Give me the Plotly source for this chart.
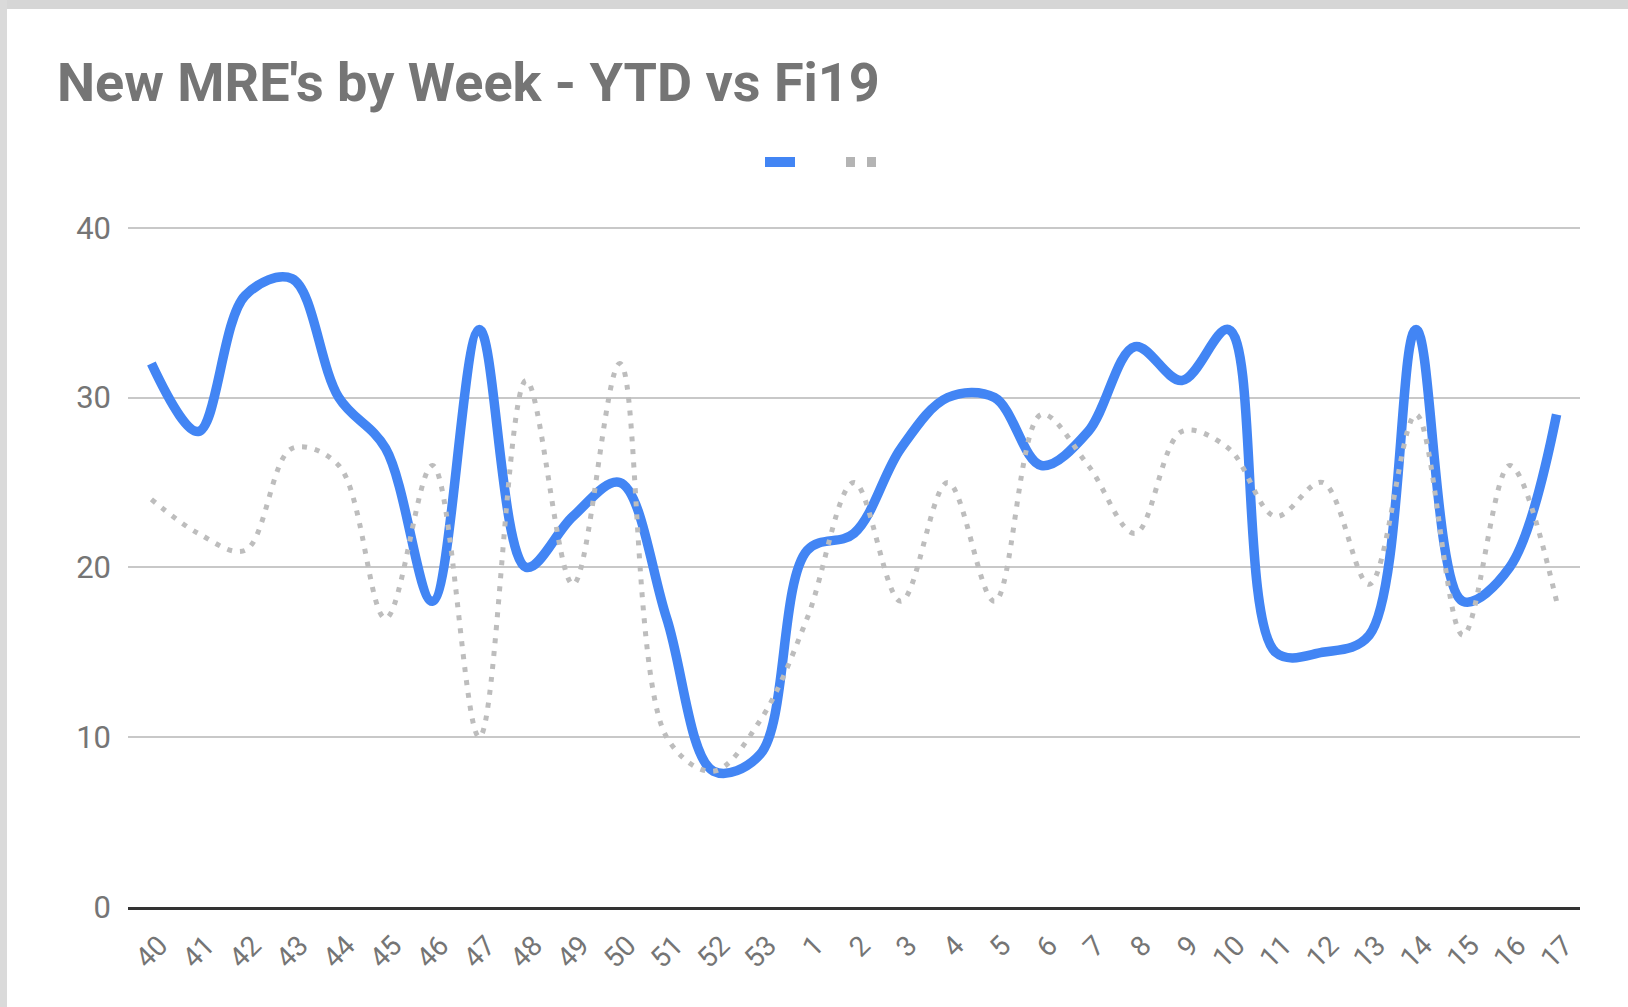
import plotly.graph_objects as go

weeks = ["40", "41", "42", "43", "44", "45", "46", "47", "48", "49", "50", "51", "52", "53",
         "1", "2", "3", "4", "5", "6", "7", "8", "9", "10", "11", "12", "13", "14", "15", "16", "17"]
ytd = [32, 28, 36, 37, 30, 27, 18, 34, 20, 23, 25, 17, 8, 9,
       21, 22, 27, 30, 30, 26, 28, 33, 31, 34, 15, 15, 16, 34, 18, 20, 29]
fi19 = [24, 22, 21, 27, 26, 17, 26, 10, 31, 19, 32, 10, 8, 11,
        17, 25, 18, 25, 18, 29, 26, 22, 28, 27, 23, 25, 19, 29, 16, 26, 18]
y_ticks = [0, 10, 20, 30, 40]

W, H = 1628, 1007
L, R, T, B = 128, 48, 226, 100
pw, ph = W - L - R, H - T - B


def px(x):
    return (x - L) / pw


def py(y):
    return (H - B - y) / ph


BLUE = "#4285F4"
GRAY = "#BDBDBD"

fig = go.Figure()
fig.add_trace(go.Scatter(x=weeks, y=ytd, mode="lines", name="YTD", showlegend=False,
                         line=dict(color=BLUE, width=9.5, shape="spline", smoothing=1.0)))
fig.add_trace(go.Scatter(x=weeks, y=fi19, mode="lines", name="Fi19", showlegend=False,
                         line=dict(color=GRAY, width=5, dash="5px,8px", shape="spline", smoothing=1.0)))
# legend entries (no text, as in the reference)
fig.add_trace(go.Scatter(x=[weeks[0]], y=[None], mode="lines", name="", showlegend=True,
                         line=dict(color=BLUE, width=10.5)))
fig.add_trace(go.Scatter(x=[weeks[0]], y=[None], mode="lines", name=" ", showlegend=True,
                         line=dict(color="#B4B4B4", width=10.5, dash="9px,12px")))

fig.update_layout(
    width=W, height=H,
    margin=dict(l=L, r=R, t=T, b=B),
    paper_bgcolor="white", plot_bgcolor="white",
    font=dict(family="Roboto", color="#757575"),
    title=dict(text="<b>New MRE's by Week - YTD vs Fi19</b>", x=57 / W, xanchor="left",
               y=1 - 82 / H, yanchor="middle", yref="container", xref="container",
               font=dict(family="Roboto", size=54, color="#757575")),
    showlegend=True,
    legend=dict(orientation="h", x=px(760), xanchor="left", y=py(162), yanchor="middle",
                entrywidth=36, entrywidthmode="pixels", font=dict(size=12), bgcolor="rgba(0,0,0,0)"),
    xaxis=dict(type="category", categoryorder="array", categoryarray=weeks, range=[-0.5, len(weeks) - 0.5],
               showgrid=False, showline=True, linecolor="#333333", linewidth=2.5, ticks="",
               tickangle=-45, tickfont=dict(size=28, color="#757575"), ticklabelstandoff=8,
               ticklabelshift=8, zeroline=False),
    yaxis=dict(range=[0, 40.1], tickvals=y_ticks, showgrid=True, gridcolor="#C8C8C8", gridwidth=1.5,
               zeroline=False, showline=False, ticks="", tickfont=dict(size=31, color="#757575"),
               ticklabelstandoff=16),
    shapes=[
        dict(type="rect", xref="paper", yref="paper", x0=px(0), x1=px(W), y0=py(0), y1=py(9),
             fillcolor="#D6D6D6", line=dict(width=0), layer="below"),
        dict(type="rect", xref="paper", yref="paper", x0=px(0), x1=px(7), y0=py(0), y1=py(H),
             fillcolor="#DADADA", line=dict(width=0), layer="below"),
    ],
)

fig.write_html("out.html", config={"displayModeBar": False},
               post_script="document.body.style.margin='0px';")
